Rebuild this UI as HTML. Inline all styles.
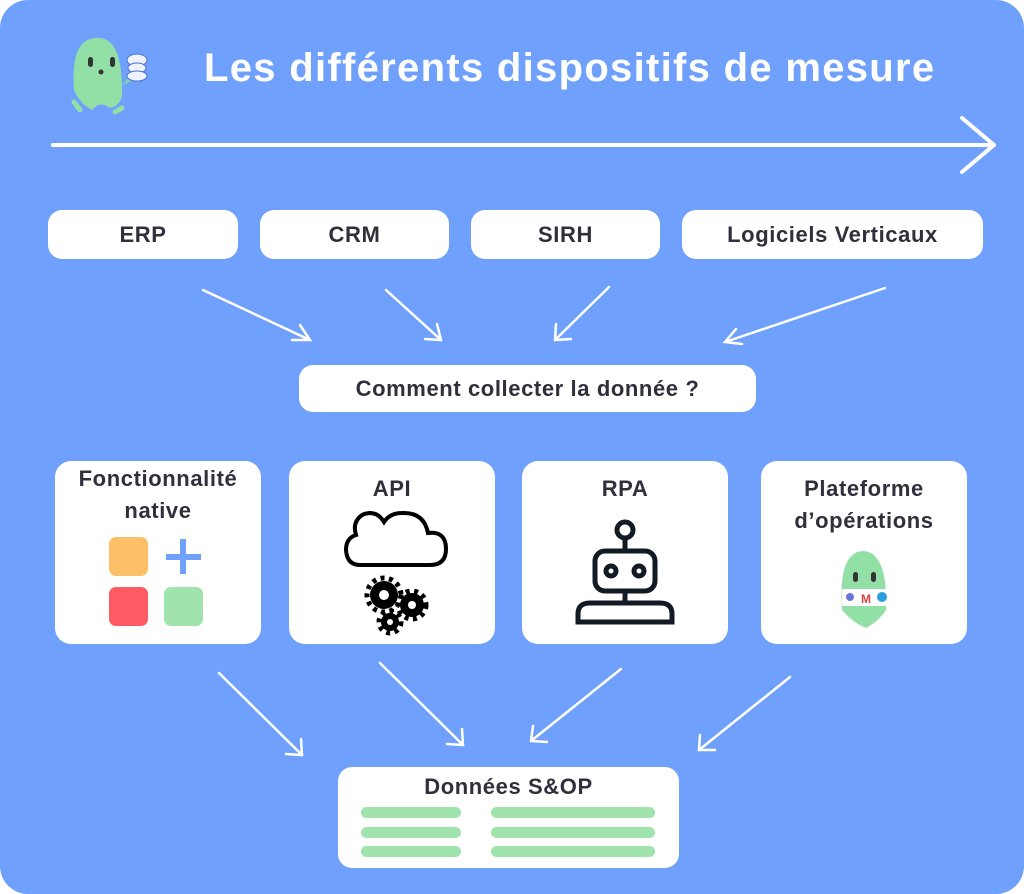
<!DOCTYPE html>
<html><head><meta charset="utf-8"><style>
body{margin:0;width:1024px;height:894px;background:#fff;font-family:"Liberation Sans",sans-serif;overflow:hidden}
#c{position:absolute;left:0;top:0;width:1024px;height:894px;background:#6fa0fc;border-radius:28px}
.b{position:absolute;background:#fff;border-radius:14px;color:#30303d;font-weight:bold;font-size:22px;text-align:center;box-sizing:border-box;letter-spacing:0.6px}
.card{border-radius:16px;font-size:22px;line-height:32px;padding-top:2px}
.t{position:absolute;left:204px;top:46px;color:#fff;font-weight:bold;font-size:40px;letter-spacing:1.3px;white-space:nowrap}
svg{position:absolute;left:0;top:0}
.bar{position:absolute;height:11px;background:#a0e3ad;border-radius:6px}
</style></head><body><div id="c">
<div class="t">Les différents dispositifs de mesure</div>
<div class="b" style="left:48px;top:210px;width:190px;height:49px;line-height:49px">ERP</div>
<div class="b" style="left:260px;top:210px;width:189px;height:49px;line-height:49px">CRM</div>
<div class="b" style="left:471px;top:210px;width:189px;height:49px;line-height:49px">SIRH</div>
<div class="b" style="left:682px;top:210px;width:301px;height:49px;line-height:49px">Logiciels Verticaux</div>
<div class="b" style="left:299px;top:365px;width:457px;height:47px;line-height:47px">Comment collecter la donnée ?</div>
<div class="b card" style="left:55px;top:461px;width:206px;height:183px">Fonctionnalité<br>native</div>
<div class="b card" style="left:289px;top:461px;width:206px;height:183px;padding-top:12px">API</div>
<div class="b card" style="left:522px;top:461px;width:206px;height:183px;padding-top:12px">RPA</div>
<div class="b card" style="left:761px;top:461px;width:206px;height:183px;padding-top:12px">Plateforme<br>d’opérations</div>
<div class="b" style="left:338px;top:767px;width:341px;height:101px;padding-top:4px;line-height:32px">Données S&amp;OP</div>
<div class="bar" style="left:361px;top:807px;width:100px"></div>
<div class="bar" style="left:361px;top:827px;width:100px"></div>
<div class="bar" style="left:361px;top:846px;width:100px"></div>
<div class="bar" style="left:491px;top:807px;width:164px"></div>
<div class="bar" style="left:491px;top:827px;width:164px"></div>
<div class="bar" style="left:491px;top:846px;width:164px"></div>
<svg width="1024" height="894" viewBox="0 0 1024 894">
<g stroke="#fff" stroke-width="4" fill="none" stroke-linecap="round" stroke-linejoin="round">
<line x1="53" y1="145" x2="993" y2="145"/><polyline points="962,118 994,145 962,172"/>
</g>
<g stroke="#fff" stroke-width="2.5" fill="none" stroke-linecap="round">
<path d="M203 290L310 340M292 340L310 340L300 325"/>
<path d="M386 290L441 340M425 339L441 340L437 324"/>
<path d="M609 287L555 340M556 324L555 340L571 339"/>
<path d="M885 288L725 342M736 329L725 342L742 344"/>
<path d="M219 673L302 755M301 739L302 755L286 754"/>
<path d="M380 663L463 745M462 729L463 745L447 744"/>
<path d="M621 669L531 741M533 726L531 741L547 742"/>
<path d="M790 677L699 750M700 735L699 750L715 750"/>
</g>
<path d="M74 90Q70 35 100 38Q122 40 122 90Q123 105 110 108Q100 100 92 110Q80 104 74 90Z" fill="#93e0a6"/>
<rect x="88" y="57" width="5" height="10" rx="2.5" fill="#333"/><rect x="110" y="57" width="5" height="10" rx="2.5" fill="#333"/><circle cx="101" cy="72" r="2.5" fill="#333"/>
<path d="M122 85L130 75L135 80Z" fill="#7fd0b0"/>
<ellipse cx="137" cy="60" rx="10" ry="6" fill="#eef3ff" stroke="#4a70d0"/><ellipse cx="137" cy="68" rx="9" ry="5" fill="#eef3ff" stroke="#4a70d0"/><ellipse cx="137" cy="76" rx="10" ry="5" fill="#eef3ff" stroke="#4a70d0"/>
<path d="M74 102L80 110M115 112L122 108" stroke="#93e0a6" stroke-width="5" stroke-linecap="round"/>
<rect x="109" y="537" width="39" height="39" rx="7" fill="#fdbf68"/>
<rect x="109" y="587" width="39" height="39" rx="7" fill="#fd5a63"/>
<rect x="164" y="587" width="39" height="39" rx="7" fill="#a0e3ad"/>
<path d="M183 539V574M166 557H201" stroke="#6fa0fc" stroke-width="6"/>
<path d="M360 565H430Q446 565 446 549Q446 531 428 533Q424 512 402 513Q390 513 384 522Q376 509 362 515Q352 522 356 535Q346 538 346 550Q347 565 360 565Z" fill="none" stroke="#000" stroke-width="4"/>
<g fill="#000"><circle cx="384" cy="595" r="14"/><circle cx="412" cy="605" r="12"/><circle cx="390" cy="622" r="9"/></g>
<g stroke="#000" stroke-width="5" stroke-dasharray="4 4.5"><circle cx="384" cy="595" r="17" fill="none"/><circle cx="412" cy="605" r="14" fill="none"/><circle cx="390" cy="622" r="11" fill="none"/></g>
<g fill="#fff"><circle cx="384" cy="595" r="5"/><circle cx="412" cy="605" r="4"/><circle cx="390" cy="622" r="3"/></g>
<g stroke="#121a24" stroke-width="5" fill="none">
<circle cx="625" cy="530" r="8"/><line x1="625" y1="538" x2="625" y2="550"/>
<rect x="595" y="551" width="60" height="40" rx="10"/><line x1="625" y1="591" x2="625" y2="603"/>
<path d="M578 622V614Q578 603 590 603H660Q672 603 672 614V622Z"/>
<circle cx="611" cy="571" r="5"/><circle cx="639" cy="571" r="5"/></g>
<path d="M842 610Q838 552 863 551Q888 552 886 610Q878 622 866 628Q852 622 842 610Z" fill="#93e0a6"/>
<rect x="853" y="572" width="5" height="10" rx="2.5" fill="#333"/><rect x="871" y="572" width="5" height="10" rx="2.5" fill="#333"/>
<rect x="842" y="589" width="48" height="17" rx="2" fill="#fff"/>
<text x="866" y="603" font-size="12" font-weight="bold" fill="#d44" text-anchor="middle">M</text>
<circle cx="850" cy="597" r="4" fill="#6b74d8"/><circle cx="882" cy="597" r="5" fill="#2aa0e0"/>
</svg>
</div></body></html>
